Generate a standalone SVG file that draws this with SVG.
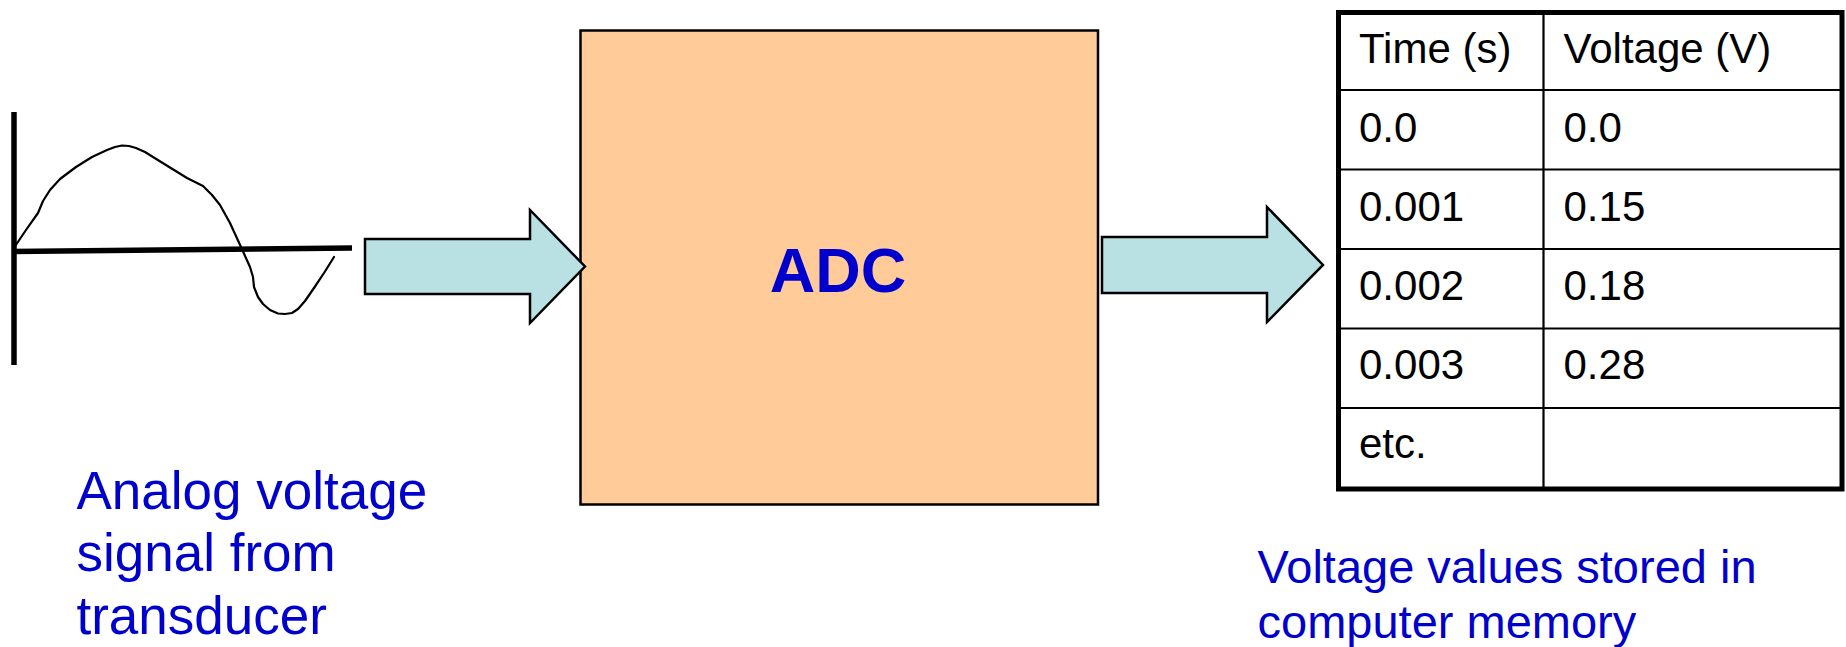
<svg xmlns="http://www.w3.org/2000/svg" width="1846" height="647" viewBox="0 0 1846 647">
<style>
.t{font-family:"Liberation Sans",Arial,sans-serif}
.lbl{fill:#0000CC;font-size:53px}
.lbl2{fill:#0000CC;font-size:47px}
.cell{fill:#000;font-size:42px}
.arrow{fill:#B9E0E3;stroke:#000;stroke-width:2.5;stroke-linejoin:miter}
.grid{stroke:#000;stroke-width:2.2}
</style>
<rect width="1846" height="647" fill="#fff"/>
<g id="signal">
<line x1="14" y1="112" x2="14" y2="365" stroke="#000" stroke-width="5.5"/>
<line x1="12" y1="251.5" x2="352" y2="248" stroke="#000" stroke-width="5.5"/>
<polyline fill="none" stroke="#000" stroke-width="2.2" stroke-linejoin="round" stroke-linecap="round" points="14.5,247 26,230 38,213 43,201 50,190 60,179 76,167 92,157 107,150 115,147 122,145.5 129,146 136,148 145,152 153,157 170,167.5 187,178 203,186 212,195 220,205 230,223 241,247 250,267 253,277 254,287 258,297 263,304 270,310 278,313.5 285,314 292,313 298,309 305,301 314,288 324,273 334,257"/>
</g>
<g id="adc">
<rect x="580.5" y="30.5" width="517.5" height="474" fill="#FFCC99" stroke="#000" stroke-width="2.5"/>
<text class="t" x="838" y="291.5" text-anchor="middle" font-size="63" font-weight="bold" fill="#0000CC">ADC</text>
</g>
<g id="connectors">
<polygon class="arrow" points="365,239 530,239 530,210 585,266.5 530,323 530,294 365,294"/>
<polygon class="arrow" points="1102,237 1267,237 1267,207 1323,265 1267,322 1267,293 1102,293"/>
</g>
<g id="table">
<rect x="1338.5" y="12.5" width="503.5" height="476.5" fill="#fff" stroke="#000" stroke-width="5"/>
<line class="grid" x1="1543.5" y1="12.5" x2="1543.5" y2="489"/>
<line class="grid" x1="1338.5" y1="90" x2="1842" y2="90"/>
<line class="grid" x1="1338.5" y1="169.5" x2="1842" y2="169.5"/>
<line class="grid" x1="1338.5" y1="249" x2="1842" y2="249"/>
<line class="grid" x1="1338.5" y1="328.5" x2="1842" y2="328.5"/>
<line class="grid" x1="1338.5" y1="408" x2="1842" y2="408"/>
<text class="t cell" x="1359" y="62.5">Time (s)</text>
<text class="t cell" x="1563.5" y="62.5">Voltage (V)</text>
<text class="t cell" x="1359" y="141.7">0.0</text>
<text class="t cell" x="1563.5" y="141.7">0.0</text>
<text class="t cell" x="1359" y="220.7">0.001</text>
<text class="t cell" x="1563.5" y="220.7">0.15</text>
<text class="t cell" x="1359" y="300">0.002</text>
<text class="t cell" x="1563.5" y="300">0.18</text>
<text class="t cell" x="1359" y="379">0.003</text>
<text class="t cell" x="1563.5" y="379">0.28</text>
<text class="t cell" x="1359" y="458">etc.</text>
</g>
<g id="label-analog">
<text class="t lbl" x="76.5" y="508.5">Analog voltage</text>
<text class="t lbl" x="76.5" y="571">signal from</text>
<text class="t lbl" x="76.5" y="633.5">transducer</text>
</g>
<g id="label-memory">
<text class="t lbl2" x="1257.5" y="583">Voltage values stored in</text>
<text class="t lbl2" x="1257.5" y="638">computer memory</text>
</g>
</svg>
